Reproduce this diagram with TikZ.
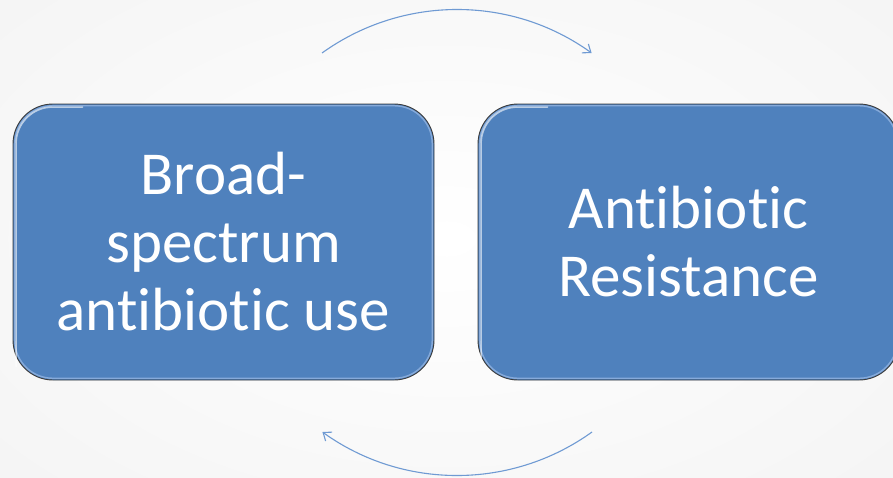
\documentclass[tikz,border=0pt]{standalone}
\usepackage{fontspec}
\setmainfont[Ligatures=NoCommon]{Carlito}
\usetikzlibrary{arrows.meta,calc}
\definecolor{boxblue}{HTML}{4F81BD}
\definecolor{boxedge}{HTML}{3C3C3C}
\definecolor{bevel}{HTML}{86AADA}
\definecolor{arcblue}{HTML}{6F9AD3}
\begin{document}
\begin{tikzpicture}[x=1pt,y=-1pt,
  cyclebox/.style={draw=boxedge, line width=0.9pt, fill=boxblue,
    rounded corners=40pt, minimum width=421pt, minimum height=276pt,
    inner sep=0pt, text=white, align=center,
    font=\fontsize{61}{68}\selectfont},
  rim/.style={draw=bevel, line width=1.4pt, rounded corners=38pt},
  gloss/.style={white, opacity=0.6, line width=1.6pt, line cap=round},
  cyclearrow/.style={draw=arcblue, line width=1.1pt,
    -{Straight Barb[length=7pt,width=11pt]}}]
  % page and background
  \useasboundingbox (0,0) rectangle (893,477);
  \shade[inner color=white, outer color=black!4] (-150,-120) rectangle (1043,597);
  \begin{scope}
    \clip (0,0) rectangle (893,477);
    % the two stages of the cycle
    \node[cyclebox] (use) at (223.5,242) {Broad-\\spectrum\\antibiotic use};
    \node[cyclebox] (res) at (688.5,242) {Antibiotic\\Resistance};
    \foreach \b in {use,res} {
      % bevelled inner rim
      \draw[rim] ($(\b.north west)+(2.2,2.2)$) rectangle ($(\b.south east)+(-2.2,-2.2)$);
      % soft highlight along the upper-left edges
      \draw[gloss] ($(\b.south west)+(3.5,-14)$) -- ($(\b.north west)+(3.5,40)$)
        arc[start angle=180, end angle=270, radius=36.5] -- ++(30,0);
    }
  \end{scope}
  % arcs joining the stages, about a common hub between the boxes
  \draw[cyclearrow] (322,53) arc[start angle=-125.7, end angle=-54.3, radius=231];
  \draw[cyclearrow] (592,432) arc[start angle=54.3, end angle=125.7, radius=231];
\end{tikzpicture}
\end{document}
